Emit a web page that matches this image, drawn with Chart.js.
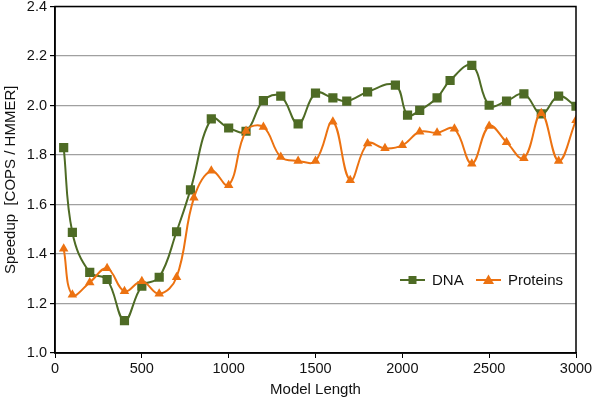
<!DOCTYPE html>
<html>
<head>
<meta charset="utf-8">
<script src="https://cdn.jsdelivr.net/npm/chart.js@4/dist/chart.umd.min.js"></script>
<style>
  html, body { margin: 0; padding: 0; background: #fff; }
  #wrap { width: 600px; height: 400px; }
</style>
</head>
<body>
<div id="wrap"><canvas id="speedupChart" width="600" height="400"></canvas></div>
<script>
// Model length (x) and speedup (y) per series
const dnaLength = [50, 100, 200, 300, 400, 500, 600, 700, 780, 900, 1000, 1100, 1200, 1300, 1400, 1500,
  1600, 1680, 1800, 1960, 2030, 2100, 2200, 2275, 2400, 2500, 2600, 2700, 2800, 2900, 3000];
const dnaSpeedup = [1.83, 1.487, 1.326, 1.297, 1.131, 1.27, 1.306, 1.49, 1.659, 1.946, 1.909, 1.896, 2.02, 2.038, 1.926, 2.05,
  2.031, 2.018, 2.055, 2.082, 1.961, 1.98, 2.031, 2.101, 2.162, 2.001, 2.018, 2.047, 1.966, 2.038, 1.997];

const proteinLength = [50, 100, 200, 300, 400, 500, 600, 700, 800, 900, 1000, 1100, 1200, 1300, 1400, 1500,
  1600, 1700, 1800, 1900, 2000, 2100, 2200, 2300, 2400, 2500, 2600, 2700, 2800, 2900, 3000];
const proteinSpeedup = [1.421, 1.235, 1.285, 1.342, 1.249, 1.29, 1.239, 1.306, 1.627, 1.736, 1.678, 1.897, 1.913, 1.792, 1.776, 1.776,
  1.934, 1.698, 1.846, 1.827, 1.839, 1.894, 1.89, 1.906, 1.765, 1.917, 1.852, 1.787, 1.969, 1.776, 1.94];

const xTitle = 'Model Length';
const yTitle = 'Speedup  [COPS / HMMER]';
const seriesNames = ['DNA', 'Proteins'];

const GREEN = '#4e6b25';
const ORANGE = '#ec7211';
const FONT = '"Liberation Sans", Arial, sans-serif';

function toPoints(xs, ys) {
  return xs.map((x, i) => ({ x: x, y: ys[i] }));
}

// box around the plot + the legend with line+marker symbols
const frameAndLegend = {
  id: 'frameAndLegend',
  afterDraw(chart) {
    const ctx = chart.ctx;
    const a = chart.chartArea;
    ctx.save();
    ctx.strokeStyle = '#000';
    ctx.lineWidth = 1.5;
    ctx.strokeRect(a.left, a.top, a.right - a.left, a.bottom - a.top);

    const ly = 280;
    const items = [
      { name: seriesNames[0], color: GREEN, shape: 'rect', x0: 400 },
      { name: seriesNames[1], color: ORANGE, shape: 'tri', x0: 476 }
    ];
    items.forEach(it => {
      ctx.strokeStyle = it.color;
      ctx.fillStyle = it.color;
      ctx.lineWidth = 2;
      ctx.beginPath();
      ctx.moveTo(it.x0, ly);
      ctx.lineTo(it.x0 + 25, ly);
      ctx.stroke();
      const cx = it.x0 + 12.5;
      ctx.beginPath();
      if (it.shape === 'rect') {
        ctx.rect(cx - 4, ly - 4, 8, 8);
      } else {
        ctx.moveTo(cx, ly - 5.5);
        ctx.lineTo(cx + 5.5, ly + 4);
        ctx.lineTo(cx - 5.5, ly + 4);
        ctx.closePath();
      }
      ctx.fill();
      ctx.fillStyle = '#111';
      ctx.font = '15px ' + FONT;
      ctx.textBaseline = 'middle';
      ctx.textAlign = 'left';
      ctx.fillText(it.name, it.x0 + 32, ly + 1);
    });
    ctx.restore();
  }
};

new Chart(document.getElementById('speedupChart'), {
  type: 'line',
  data: {
    datasets: [{
      label: seriesNames[0],
      data: toPoints(dnaLength, dnaSpeedup),
      borderColor: GREEN,
      backgroundColor: GREEN,
      borderWidth: 2,
      pointStyle: 'rect',
      pointRadius: 6.5,
      pointBorderWidth: 0,
      tension: 0.4,
      order: 1
    }, {
      label: seriesNames[1],
      data: toPoints(proteinLength, proteinSpeedup),
      borderColor: ORANGE,
      backgroundColor: ORANGE,
      borderWidth: 2,
      pointStyle: 'triangle',
      pointRadius: 5.5,
      pointBorderWidth: 0,
      tension: 0.4,
      order: 0
    }]
  },
  options: {
    responsive: false,
    animation: false,
    layout: { padding: { top: 5, right: 24, left: 0, bottom: 0 } },
    plugins: {
      legend: { display: false },
      tooltip: { enabled: false }
    },
    scales: {
      x: {
        type: 'linear',
        min: 0,
        max: 3000,
        afterFit(scale) {
          scale.height = 47;
          scale.paddingLeft = 0;
          scale.paddingRight = 0;
        },
        border: { color: '#000', width: 1.5 },
        grid: { drawOnChartArea: false, drawTicks: true, tickLength: 5, tickColor: '#000' },
        ticks: {
          stepSize: 500, padding: 2, color: '#111', font: { family: FONT, size: 14.5 }, maxRotation: 0,
          callback: v => String(v)
        },
        title: { display: true, text: xTitle, color: '#111', font: { family: FONT, size: 15 }, padding: { top: 0, bottom: 1 } }
      },
      y: {
        min: 1.0,
        max: 2.4,
        afterFit(scale) {
          scale.width = 55;
          scale.paddingTop = 0;
          scale.paddingBottom = 0;
        },
        border: { color: '#000', width: 1.5 },
        grid: { color: '#a0a0a0', lineWidth: 1.2, drawTicks: true, tickLength: 5, tickColor: '#000' },
        ticks: {
          stepSize: 0.2, padding: 3, color: '#111', font: { family: FONT, size: 14.5 },
          callback: v => v.toFixed(1)
        },
        title: { display: true, text: yTitle, color: '#111', font: { family: FONT, size: 15 }, padding: { top: 2, bottom: 0 } }
      }
    }
  },
  plugins: [frameAndLegend]
});
</script>
</body>
</html>
